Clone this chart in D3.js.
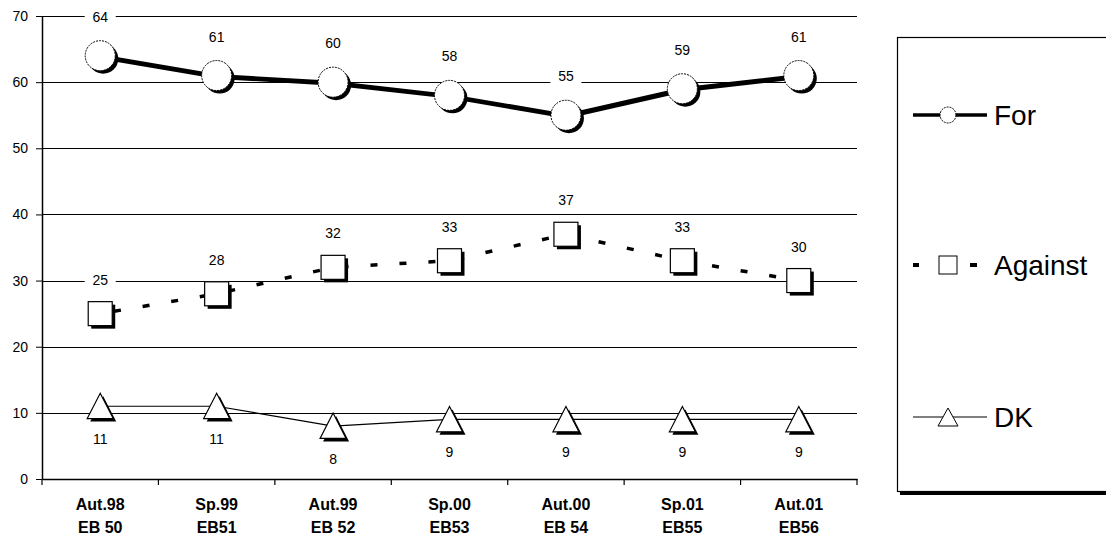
<!DOCTYPE html>
<html><head><meta charset="utf-8">
<script src="https://cdn.jsdelivr.net/npm/d3@7"></script>
<style>body{margin:0;background:#fff}svg{display:block}</style>
</head><body>
<svg id="c" width="1106" height="539"></svg>
<script>
const categories = ["Aut.98|EB 50","Sp.99|EB51","Aut.99|EB 52","Sp.00|EB53","Aut.00|EB 54","Sp.01|EB55","Aut.01|EB56"];
const forValues = [64,61,60,58,55,59,61];
const againstValues = [25,28,32,33,37,33,30];
const dkValues = [11,11,8,9,9,9,9];
const yTicks = [0,10,20,30,40,50,60,70];
const seriesNames = ["For","Against","DK"];

const svg = d3.select("#c");
const font = "Arial, Liberation Sans, sans-serif";
const L=42, R=857, T=16, B=479;
const x = d3.scaleBand().domain(categories).range([L,R]);
const y = d3.scaleLinear().domain([0,70]).range([B,T]);
const cx = d => x(d)+x.bandwidth()/2;

// gridlines
svg.append("g").selectAll("line").data(yTicks.filter(v=>v>0)).join("line")
  .attr("x1",L).attr("x2",R).attr("y1",d=>Math.round(y(d))+0.5).attr("y2",d=>Math.round(y(d))+0.5)
  .attr("stroke","#000").attr("stroke-width",1.2);

// y axis
const ya = svg.append("g").attr("transform",`translate(${L},0)`)
  .call(d3.axisLeft(y).tickValues(yTicks).tickSize(6).tickSizeOuter(0));
ya.select(".domain").attr("stroke-width",1.5);
ya.selectAll("text").attr("font-family",font).attr("font-size",14).attr("fill","#000").attr("x",-14);

// x axis
const xa = svg.append("g").attr("transform",`translate(0,${B})`)
  .call(d3.axisBottom(x).tickSize(0).tickFormat(""));
xa.select(".domain").attr("stroke-width",1.5);
svg.append("g").selectAll("line").data(d3.range(categories.length+1)).join("line")
  .attr("x1",i=>L+i*x.bandwidth()).attr("x2",i=>L+i*x.bandwidth())
  .attr("y1",B).attr("y2",B+6).attr("stroke","#000").attr("stroke-width",1.2);
const xl = svg.append("g").selectAll("text").data(categories).join("text")
  .attr("x",d=>cx(d)).attr("text-anchor","middle")
  .attr("font-family",font).attr("font-size",16).attr("font-weight","bold");
xl.append("tspan").attr("x",d=>cx(d)).attr("y",B+31).text(d=>d.split("|")[0]);
xl.append("tspan").attr("x",d=>cx(d)).attr("y",B+54).text(d=>d.split("|")[1]);

function pts(vals){return vals.map((v,i)=>({c:categories[i],v}));}
const line = d3.line().x(d=>cx(d.c)).y(d=>y(d.v));

// data labels with white background
function labels(vals, dy){
  const g = svg.append("g");
  pts(vals).forEach(p=>{
    const tx = cx(p.c), ty = y(p.v)+dy;
    const w = String(p.v).length*8+15;
    g.append("rect").attr("x",tx-w/2).attr("y",ty-9).attr("width",w).attr("height",18).attr("fill","#fff");
    g.append("text").attr("x",tx).attr("y",ty+5).attr("text-anchor","middle")
      .attr("font-family",font).attr("font-size",14).text(p.v);
  });
}
labels(forValues,-39);
labels(againstValues,-34);
labels(dkValues,33);

// DK line
svg.append("path").datum(pts(dkValues)).attr("d",line).attr("fill","none").attr("stroke","#000").attr("stroke-width",1.2);
// Against dashed
svg.append("path").datum(pts(againstValues)).attr("d",line).attr("fill","none").attr("stroke","#000").attr("stroke-width",3.5).attr("stroke-dasharray","7,22").attr("stroke-dashoffset",-14);
// For solid with shadow
svg.append("path").datum(pts(forValues)).attr("d",line).attr("fill","none").attr("stroke","#000").attr("stroke-width",3).attr("transform","translate(1,2)");
svg.append("path").datum(pts(forValues)).attr("d",line).attr("fill","none").attr("stroke","#000").attr("stroke-width",3);

// markers
const sh=3;
pts(forValues).forEach(p=>{
  const X=cx(p.c),Y=y(p.v);
  svg.append("circle").attr("cx",X+sh).attr("cy",Y+sh).attr("r",15).attr("fill","#000");
  svg.append("circle").attr("cx",X).attr("cy",Y).attr("r",15).attr("fill","#fff").attr("stroke","#000").attr("stroke-width",1).attr("stroke-dasharray","2,1");
});
pts(againstValues).forEach(p=>{
  const X=cx(p.c),Y=y(p.v);
  svg.append("rect").attr("x",X-12+sh).attr("y",Y-12+sh).attr("width",24).attr("height",24).attr("fill","#000");
  svg.append("rect").attr("x",X-12).attr("y",Y-12).attr("width",24).attr("height",24).attr("fill","#fff").attr("stroke","#000").attr("stroke-width",1.2);
});
function tri(X,Y,s){return `M${X},${Y-s}L${X+s},${Y+s*0.95}L${X-s},${Y+s*0.95}Z`;}
pts(dkValues).forEach(p=>{
  const X=cx(p.c),Y=y(p.v);
  svg.append("path").attr("d",tri(X+sh,Y+sh,13)).attr("fill","#000");
  svg.append("path").attr("d",tri(X,Y,13)).attr("fill","#fff").attr("stroke","#000").attr("stroke-width",1.2);
});

// legend
const lg = svg.append("g");
lg.append("rect").attr("x",900).attr("y",40).attr("width",210).attr("height",455).attr("fill","#000");
lg.append("rect").attr("x",897.5).attr("y",37.5).attr("width",210).attr("height",454).attr("fill","#fff").attr("stroke","#000").attr("stroke-width",1.2);
const ly = [115,265,417];
const lx1=913, lx2=987, lmid=948;
// For
lg.append("line").attr("x1",lx1).attr("x2",lx2).attr("y1",ly[0]).attr("y2",ly[0]).attr("stroke","#000").attr("stroke-width",3.5);
lg.append("circle").attr("cx",lmid).attr("cy",ly[0]).attr("r",8).attr("fill","#fff").attr("stroke","#000").attr("stroke-dasharray","2,1");
// Against
lg.append("line").attr("x1",lx1).attr("x2",lx2).attr("y1",ly[1]).attr("y2",ly[1]).attr("stroke","#000").attr("stroke-width",4).attr("stroke-dasharray","6,52");
lg.append("line").attr("x1",970).attr("x2",976).attr("y1",ly[1]).attr("y2",ly[1]).attr("stroke","#000").attr("stroke-width",4);
lg.append("rect").attr("x",lmid-9).attr("y",ly[1]-9).attr("width",18).attr("height",18).attr("fill","#fff").attr("stroke","#000");
// DK
lg.append("line").attr("x1",lx1).attr("x2",lx2).attr("y1",ly[2]).attr("y2",ly[2]).attr("stroke","#000").attr("stroke-width",1.2);
lg.append("path").attr("d",`M${lmid},${ly[2]-9}L${lmid+10},${ly[2]+9}L${lmid-10},${ly[2]+9}Z`).attr("fill","#fff").attr("stroke","#000");
lg.selectAll("text.l").data(seriesNames).join("text").attr("class","l")
  .attr("x",994).attr("y",(d,i)=>ly[i]+10).attr("font-family",font).attr("font-size",28).text(d=>d);
</script>
</body></html>
